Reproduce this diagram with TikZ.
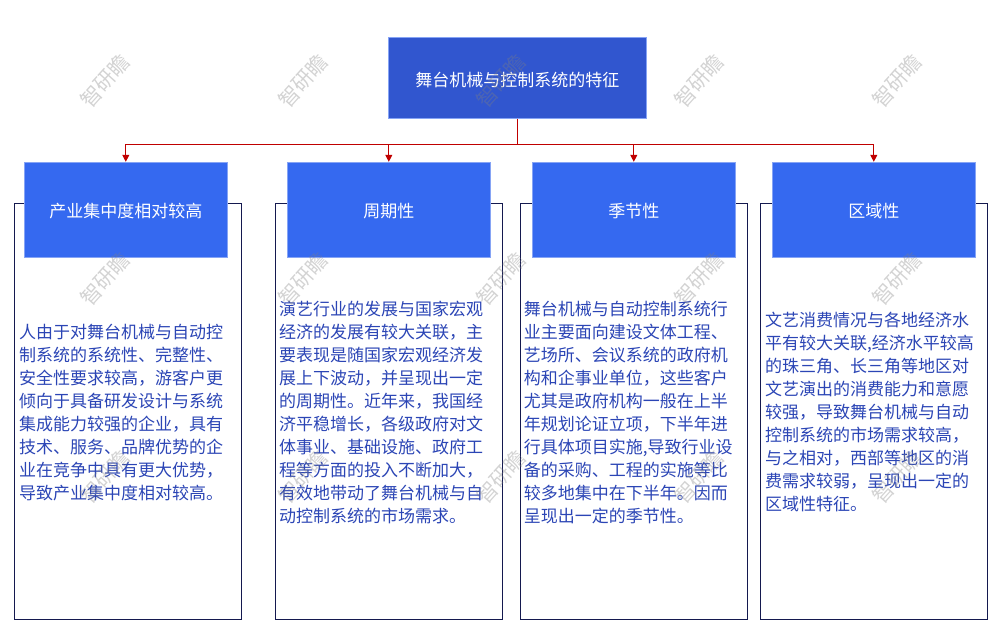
\documentclass[tikz,border=0pt]{standalone}
\usepackage{fontspec}
\setmainfont{Noto Sans CJK SC}
\usetikzlibrary{arrows.meta}
\newcommand{\fw}{\char"FF0C\relax}
\definecolor{titleblue}{HTML}{3156CF}
\definecolor{headblue}{HTML}{3569F0}
\definecolor{edgeblue}{HTML}{86A4F5}
\definecolor{framenavy}{HTML}{14194F}
\definecolor{bodyblue}{HTML}{2B45B5}
\definecolor{linkred}{HTML}{C00000}
\tikzset{
	basefont/.style={font=\fontsize{12.75}{17.25}\selectfont},
	titlebox/.style={basefont,draw=edgeblue,line width=.75pt,fill=titleblue,text=white,minimum width=193.5pt,minimum height=60.75pt,text width=190pt,inner xsep=0pt,align=center,execute at begin node={\vskip -3.8pt}},
	headbox/.style={basefont,draw=edgeblue,line width=.75pt,fill=headblue,text=white,minimum width=152.25pt,minimum height=71.25pt,text width=150pt,inner xsep=0pt,align=center,execute at begin node={\vskip -4.2pt}},
	framebox/.style={basefont,draw=framenavy,line width=.75pt,text=bodyblue,minimum width=170.5pt,minimum height=312pt,text width=163pt,inner xsep=0pt,align=left,execute at begin node={\vskip -3.5pt}},
	link/.style={draw=linkred,line width=.75pt,-{Triangle[length=5.25pt,width=5.25pt]}},
	stem/.style={draw=linkred,line width=.75pt},
	watermark/.style={font=\fontsize{15.5}{15.5}\selectfont,text=gray,opacity=.35,rotate=48,inner sep=0pt}
}
\begin{document}
\begin{tikzpicture}[x=.75pt,y=-.75pt]
	\useasboundingbox (0,0) rectangle (995,626);
	\node[titlebox] (title) at (517.3,77.8) {舞台机械与控制系统的特征};
	% text frames go under the header boxes
	\node[framebox] (frameA) at (127.7,411) {人由于对舞台机械与自动控\\制系统的系统性、完整性、\\安全性要求较高\fw{}游客户更\\倾向于具备研发设计与系统\\集成能力较强的企业\fw{}具有\\技术、服务、品牌优势的企\\业在竞争中具有更大优势\fw{}\\导致产业集中度相对较高。};
	\node[framebox,text width=165pt] (frameB) at (389,411) {演艺行业的发展与国家宏观\\经济的发展有较大关联\fw{}主\\要表现是随国家宏观经济发\\展上下波动\fw{}并呈现出一定\\的周期性。近年来\fw{}我国经\\济平稳增长\fw{}各级政府对文\\体事业、基础设施、政府工\\程等方面的投入不断加大\fw{}\\有效地带动了舞台机械与自\\动控制系统的市场需求。};
	\node[framebox,text width=165pt] (frameC) at (633.8,411) {舞台机械与自动控制系统行\\业主要面向建设文体工程、\\艺场所、会议系统的政府机\\构和企事业单位\fw{}这些客户\\尤其是政府机构一般在上半\\年规划论证立项\fw{}下半年进\\行具体项目实施,导致行业设\\备的采购、工程的实施等比\\较多地集中在下半年。因而\\呈现出一定的季节性。};
	\node[framebox,execute at begin node={\vskip -1.5pt}] (frameD) at (873.8,411) {文艺消费情况与各地经济水\\平有较大关联,经济水平较高\\的珠三角、长三角等地区对\\文艺演出的消费能力和意愿\\较强\fw{}导致舞台机械与自动\\控制系统的市场需求较高\fw{}\\与之相对\fw{}西部等地区的消\\费需求较弱\fw{}呈现出一定的\\区域性特征。};
	\node[headbox] (headA) at (125.8,209.8) {产业集中度相对较高};
	\node[headbox] (headB) at (388.8,209.8) {周期性};
	\node[headbox] (headC) at (633.8,209.8) {季节性};
	\node[headbox] (headD) at (873.8,209.8) {区域性};
	\coordinate (bus) at (517.3,144.3);
	\draw[stem] (title.south) -- (bus);
	\draw[link] (bus) -| (headA.north);
	\draw[link] (bus) -| (headB.north);
	\draw[link] (bus) -| (headC.north);
	\draw[link] (bus) -| (headD.north);
	\foreach \col/\wx in {a/105,b/303,c/501,d/699,e/897}
		\foreach \row/\wy in {a/81,b/279,c/477}
			\node[watermark] (mark\col\row) at (\wx,\wy) {智研瞻};
\end{tikzpicture}
\end{document}
